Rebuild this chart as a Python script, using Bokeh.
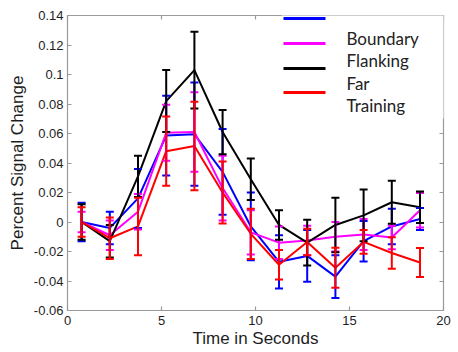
from bokeh.plotting import figure
from bokeh.models import (Range1d, FixedTicker, LinearAxis, Whisker, TeeHead, ColumnDataSource,
                          CustomJSTickFormatter, Label, BoxAnnotation, Arrow)
from bokeh.embed import file_html
from bokeh.resources import INLINE

# ---------------- data ----------------
time_s = [0.75, 2.25, 3.75, 5.25, 6.75, 8.25, 9.75, 11.25, 12.75, 14.25, 15.75, 17.25, 18.75]

boundary = [0.0, -0.004, 0.016, 0.0586, 0.0595, 0.034, -0.003, -0.027, -0.023, -0.037, -0.013, -0.003, 0.002]
boundary_err = [0.013, 0.011, 0.020, 0.027, 0.035, 0.029, 0.023, 0.018, 0.0175, 0.0145, 0.0137, 0.012, 0.0075]

flanking = [0.0, -0.009, 0.007, 0.0605, 0.061, 0.023, -0.007, -0.014, -0.0125, -0.010, -0.0085, -0.0105, 0.008]
flanking_err = [0.007, 0.010, 0.012, 0.019, 0.027, 0.022, 0.015, 0.011, 0.010, 0.010, 0.0105, 0.008, 0.0117]

far = [0.0, -0.013, 0.031, 0.082, 0.103, 0.061, 0.029, -0.002, -0.014, -0.002, 0.0045, 0.0134, 0.010]
far_err = [0.012, 0.011, 0.014, 0.021, 0.026, 0.015, 0.014, 0.010, 0.0155, 0.0185, 0.0175, 0.0146, 0.0107]

training = [0.0, -0.011, -0.003, 0.048, 0.0515, 0.020, -0.008, -0.029, -0.0135, -0.031, -0.0135, -0.021, -0.0275]
training_err = [0.010, 0.014, 0.0195, 0.0235, 0.030, 0.021, 0.017, 0.010, 0.009, 0.0135, 0.008, 0.0107, 0.0098]

series_names = ["Boundary", "Flanking", "Far", "Training"]
series_colors = ["#0000ff", "#ff00ff", "#000000", "#ff0000"]

x_ticks = [0, 5, 10, 15, 20]
y_ticks = [-0.06, -0.04, -0.02, 0, 0.02, 0.04, 0.06, 0.08, 0.1, 0.12, 0.14]

x_label = "Time in Seconds"
y_label = "Percent Signal Change"

# ---------------- figure ----------------
AXIS_COLOR = "#9a9a9a"
TEXT_COLOR = "#1e1e1e"
FONT = "Liberation Sans"

p = figure(width=458, height=352,
           x_range=Range1d(0, 20), y_range=Range1d(-0.06, 0.14),
           output_backend="svg", toolbar_location=None,
           min_border_left=67, min_border_right=15, min_border_top=15, min_border_bottom=42,
           background_fill_color="white", border_fill_color="white")
p.outline_line_color = None
p.xgrid.visible = False
p.ygrid.visible = False

p.add_layout(LinearAxis(), "above")
p.add_layout(LinearAxis(), "right")

for ax in p.xaxis:
    ax.ticker = FixedTicker(ticks=x_ticks)
for ax in p.yaxis:
    ax.ticker = FixedTicker(ticks=y_ticks)
    ax.formatter = CustomJSTickFormatter(code="return String(Math.round(tick*100)/100);")

for ax in list(p.xaxis) + list(p.yaxis):
    ax.axis_line_color = AXIS_COLOR
    ax.axis_line_width = 1.2
    ax.major_tick_line_color = AXIS_COLOR
    ax.major_tick_line_width = 1.2
    ax.major_tick_in = 4
    ax.major_tick_out = 0
    ax.minor_tick_line_color = None
    ax.major_label_text_font = FONT
    ax.major_label_text_font_size = "13px"
    ax.major_label_text_color = TEXT_COLOR

bottom_ax = p.below[0]
bottom_ax.major_label_standoff = 5
bottom_ax.axis_label = x_label
bottom_ax.axis_label_text_font = FONT
bottom_ax.axis_label_text_font_size = "17px"
bottom_ax.axis_label_text_font_style = "normal"
bottom_ax.axis_label_text_color = TEXT_COLOR
bottom_ax.axis_label_standoff = 1

left_ax = p.left[0]
left_ax.major_label_standoff = 4
left_ax.axis_label = y_label
left_ax.axis_label_text_font = FONT
left_ax.axis_label_text_font_size = "17px"
left_ax.axis_label_text_font_style = "normal"
left_ax.axis_label_text_color = TEXT_COLOR
left_ax.axis_label_standoff = 4

for ax in (p.above[0], p.right[0]):
    ax.formatter = CustomJSTickFormatter(code="return '';")
    ax.major_label_standoff = 0

# ---------------- series ----------------
for vals, errs, color in zip([boundary, flanking, far, training],
                             [boundary_err, flanking_err, far_err, training_err],
                             series_colors):
    src = ColumnDataSource(dict(
        x=time_s, y=vals,
        upper=[v + e for v, e in zip(vals, errs)],
        lower=[v - e for v, e in zip(vals, errs)],
    ))
    p.line("x", "y", source=src, line_color=color, line_width=2)
    w = Whisker(base="x", upper="upper", lower="lower", source=src,
                line_color=color, line_width=2, level="glyph",
                upper_head=TeeHead(size=8, line_color=color, line_width=2),
                lower_head=TeeHead(size=8, line_color=color, line_width=2))
    p.add_layout(w)

# ---------------- legend (white panel with lines and texts) ----------------
p.add_layout(BoxAnnotation(left=214, right=381, bottom=192, top=300,
                           left_units="screen", right_units="screen",
                           bottom_units="screen", top_units="screen",
                           fill_color="white", fill_alpha=1.0, line_color=None,
                           level="annotation"))

line_y = [292, 267, 242, 218]
text_y = [272, 250, 227, 205]
for name, color, ly, ty in zip(series_names, series_colors, line_y, text_y):
    p.add_layout(Arrow(x_start=216, y_start=ly, x_end=258, y_end=ly,
                       start_units="screen", end_units="screen",
                       start=None, end=None, line_color=color, line_width=3))
    p.add_layout(Label(x=279, y=ty, x_units="screen", y_units="screen", text=name,
                       text_font="Lato", text_font_size="17px", text_color="#222222",
                       text_align="left", text_baseline="alphabetic"))

open("out.html", "w").write(file_html(p, INLINE))
